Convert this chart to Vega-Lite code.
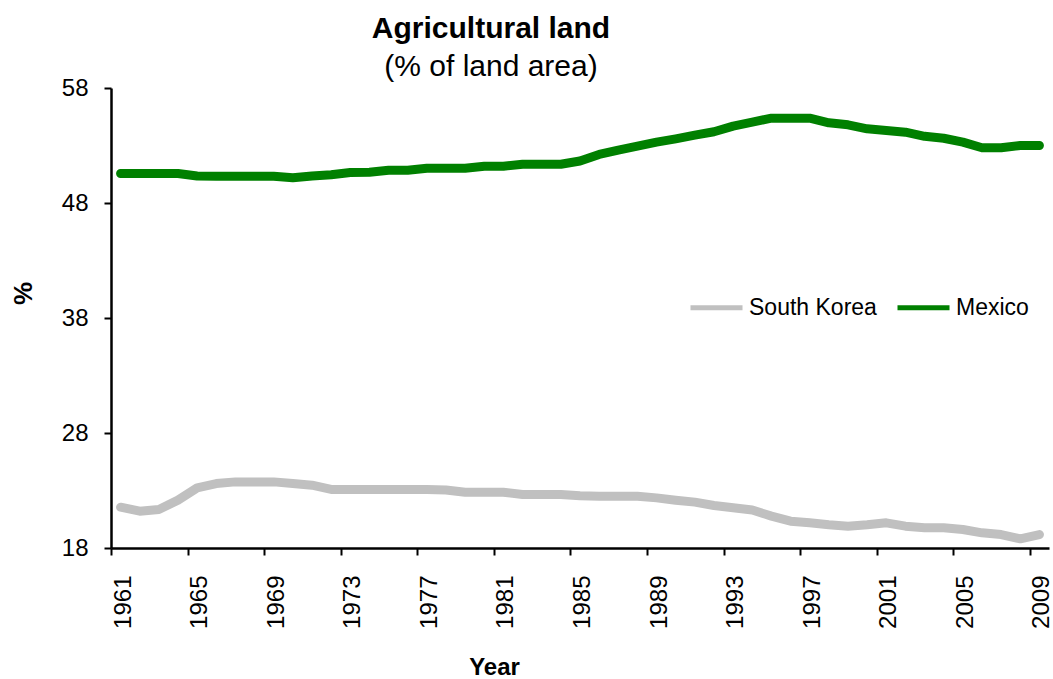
{
  "$schema": "https://vega.github.io/schema/vega-lite/v6.json",
  "width": 938,
  "height": 460,
  "autosize": {"type": "none"},
  "padding": {"left": 111, "top": 88, "right": 4, "bottom": 131},
  "background": "white",
  "config": {
    "view": {"stroke": null},
    "font": "Liberation Sans",
    "text": {"font": "Liberation Sans"}
  },
  "title": {
    "text": "Agricultural land",
    "subtitle": "(% of land area)",
    "anchor": "middle",
    "frame": "group",
    "dx": -89,
    "fontSize": 30,
    "fontWeight": "bold",
    "color": "black",
    "subtitleFontSize": 30,
    "subtitleColor": "black",
    "subtitleFont": "Liberation Sans",
    "font": "Liberation Sans",
    "subtitlePadding": 8,
    "offset": -6
  },
  "data": {
    "values": [
      {"year": 1961, "country": "Mexico", "value": 50.57},
      {"year": 1962, "country": "Mexico", "value": 50.57},
      {"year": 1963, "country": "Mexico", "value": 50.57},
      {"year": 1964, "country": "Mexico", "value": 50.57},
      {"year": 1965, "country": "Mexico", "value": 50.35},
      {"year": 1966, "country": "Mexico", "value": 50.33},
      {"year": 1967, "country": "Mexico", "value": 50.33},
      {"year": 1968, "country": "Mexico", "value": 50.33},
      {"year": 1969, "country": "Mexico", "value": 50.33},
      {"year": 1970, "country": "Mexico", "value": 50.19},
      {"year": 1971, "country": "Mexico", "value": 50.35},
      {"year": 1972, "country": "Mexico", "value": 50.45},
      {"year": 1973, "country": "Mexico", "value": 50.65},
      {"year": 1974, "country": "Mexico", "value": 50.68},
      {"year": 1975, "country": "Mexico", "value": 50.85},
      {"year": 1976, "country": "Mexico", "value": 50.85},
      {"year": 1977, "country": "Mexico", "value": 51.03},
      {"year": 1978, "country": "Mexico", "value": 51.03},
      {"year": 1979, "country": "Mexico", "value": 51.03},
      {"year": 1980, "country": "Mexico", "value": 51.2},
      {"year": 1981, "country": "Mexico", "value": 51.2},
      {"year": 1982, "country": "Mexico", "value": 51.37},
      {"year": 1983, "country": "Mexico", "value": 51.37},
      {"year": 1984, "country": "Mexico", "value": 51.37},
      {"year": 1985, "country": "Mexico", "value": 51.65},
      {"year": 1986, "country": "Mexico", "value": 52.22},
      {"year": 1987, "country": "Mexico", "value": 52.6},
      {"year": 1988, "country": "Mexico", "value": 52.94},
      {"year": 1989, "country": "Mexico", "value": 53.29},
      {"year": 1990, "country": "Mexico", "value": 53.58},
      {"year": 1991, "country": "Mexico", "value": 53.9},
      {"year": 1992, "country": "Mexico", "value": 54.2},
      {"year": 1993, "country": "Mexico", "value": 54.68},
      {"year": 1994, "country": "Mexico", "value": 55.03},
      {"year": 1995, "country": "Mexico", "value": 55.38},
      {"year": 1996, "country": "Mexico", "value": 55.38},
      {"year": 1997, "country": "Mexico", "value": 55.38},
      {"year": 1998, "country": "Mexico", "value": 54.97},
      {"year": 1999, "country": "Mexico", "value": 54.8},
      {"year": 2000, "country": "Mexico", "value": 54.45},
      {"year": 2001, "country": "Mexico", "value": 54.3},
      {"year": 2002, "country": "Mexico", "value": 54.16},
      {"year": 2003, "country": "Mexico", "value": 53.8},
      {"year": 2004, "country": "Mexico", "value": 53.63},
      {"year": 2005, "country": "Mexico", "value": 53.29},
      {"year": 2006, "country": "Mexico", "value": 52.8},
      {"year": 2007, "country": "Mexico", "value": 52.8},
      {"year": 2008, "country": "Mexico", "value": 53.0},
      {"year": 2009, "country": "Mexico", "value": 53.0},
      {"year": 1961, "country": "South Korea", "value": 21.55},
      {"year": 1962, "country": "South Korea", "value": 21.2},
      {"year": 1963, "country": "South Korea", "value": 21.35},
      {"year": 1964, "country": "South Korea", "value": 22.16},
      {"year": 1965, "country": "South Korea", "value": 23.23},
      {"year": 1966, "country": "South Korea", "value": 23.6},
      {"year": 1967, "country": "South Korea", "value": 23.75},
      {"year": 1968, "country": "South Korea", "value": 23.75},
      {"year": 1969, "country": "South Korea", "value": 23.75},
      {"year": 1970, "country": "South Korea", "value": 23.6},
      {"year": 1971, "country": "South Korea", "value": 23.46},
      {"year": 1972, "country": "South Korea", "value": 23.09},
      {"year": 1973, "country": "South Korea", "value": 23.09},
      {"year": 1974, "country": "South Korea", "value": 23.09},
      {"year": 1975, "country": "South Korea", "value": 23.09},
      {"year": 1976, "country": "South Korea", "value": 23.09},
      {"year": 1977, "country": "South Korea", "value": 23.09},
      {"year": 1978, "country": "South Korea", "value": 23.05},
      {"year": 1979, "country": "South Korea", "value": 22.85},
      {"year": 1980, "country": "South Korea", "value": 22.85},
      {"year": 1981, "country": "South Korea", "value": 22.85},
      {"year": 1982, "country": "South Korea", "value": 22.65},
      {"year": 1983, "country": "South Korea", "value": 22.65},
      {"year": 1984, "country": "South Korea", "value": 22.65},
      {"year": 1985, "country": "South Korea", "value": 22.55},
      {"year": 1986, "country": "South Korea", "value": 22.5},
      {"year": 1987, "country": "South Korea", "value": 22.5},
      {"year": 1988, "country": "South Korea", "value": 22.5},
      {"year": 1989, "country": "South Korea", "value": 22.36},
      {"year": 1990, "country": "South Korea", "value": 22.16},
      {"year": 1991, "country": "South Korea", "value": 21.99},
      {"year": 1992, "country": "South Korea", "value": 21.7},
      {"year": 1993, "country": "South Korea", "value": 21.5},
      {"year": 1994, "country": "South Korea", "value": 21.3},
      {"year": 1995, "country": "South Korea", "value": 20.77},
      {"year": 1996, "country": "South Korea", "value": 20.33},
      {"year": 1997, "country": "South Korea", "value": 20.19},
      {"year": 1998, "country": "South Korea", "value": 20.02},
      {"year": 1999, "country": "South Korea", "value": 19.9},
      {"year": 2000, "country": "South Korea", "value": 20.02},
      {"year": 2001, "country": "South Korea", "value": 20.19},
      {"year": 2002, "country": "South Korea", "value": 19.9},
      {"year": 2003, "country": "South Korea", "value": 19.76},
      {"year": 2004, "country": "South Korea", "value": 19.76},
      {"year": 2005, "country": "South Korea", "value": 19.61},
      {"year": 2006, "country": "South Korea", "value": 19.32},
      {"year": 2007, "country": "South Korea", "value": 19.17},
      {"year": 2008, "country": "South Korea", "value": 18.8},
      {"year": 2009, "country": "South Korea", "value": 19.17}
    ]
  },
  "mark": {"type": "line", "strokeWidth": 9, "strokeCap": "round", "strokeJoin": "round"},
  "encoding": {
    "x": {
      "field": "year",
      "type": "quantitative",
      "scale": {"domain": [1960.5, 2009.5], "nice": false, "zero": false},
      "axis": {
        "values": [1961, 1965, 1969, 1973, 1977, 1981, 1985, 1989, 1993, 1997, 2001, 2005, 2009],
        "format": "d",
        "grid": false,
        "labelAngle": -90,
        "labelFontSize": 24,
        "labelColor": "black",
        "labelFont": "Liberation Sans",
        "labelPadding": 20,
        "labelOffset": 12,
        "tickOffset": -9.57,
        "tickSize": 7,
        "tickWidth": 2,
        "tickColor": "black",
        "domainColor": "black",
        "domainWidth": 2.5,
        "labelFlush": false,
        "labelOverlap": false,
        "title": "Year",
        "titleFontSize": 24,
        "titleFontWeight": "bold",
        "titleColor": "black",
        "titleFont": "Liberation Sans",
        "titleX": 383,
        "titleY": 126,
        "titleBaseline": "alphabetic",
        "titleAlign": "center"
      }
    },
    "y": {
      "field": "value",
      "type": "quantitative",
      "scale": {"domain": [18, 58], "nice": false, "zero": false},
      "axis": {
        "values": [18, 28, 38, 48, 58],
        "grid": false,
        "labelFontSize": 24,
        "labelColor": "black",
        "labelFont": "Liberation Sans",
        "labelPadding": 16,
        "tickSize": 7,
        "tickWidth": 2,
        "tickColor": "black",
        "domainColor": "black",
        "domainWidth": 2.5,
        "labelFlush": false,
        "title": "%",
        "titleFontSize": 26,
        "titleFontWeight": "bold",
        "titleColor": "black",
        "titleFont": "Liberation Sans",
        "titleAngle": -90,
        "titleX": -88,
        "titleY": 205,
        "titleBaseline": "middle",
        "titleAlign": "center"
      }
    },
    "color": {
      "field": "country",
      "type": "nominal",
      "scale": {"domain": ["South Korea", "Mexico"], "range": ["#C0C0C0", "#008000"]},
      "legend": {
        "title": null,
        "orient": "none",
        "direction": "horizontal",
        "legendX": 577,
        "legendY": 191,
        "symbolType": "stroke",
        "symbolSize": 2704,
        "symbolStrokeWidth": 5,
        "labelFontSize": 23,
        "labelColor": "black",
        "labelFont": "Liberation Sans",
        "labelOffset": 4,
        "columnPadding": 10
      }
    }
  }
}
